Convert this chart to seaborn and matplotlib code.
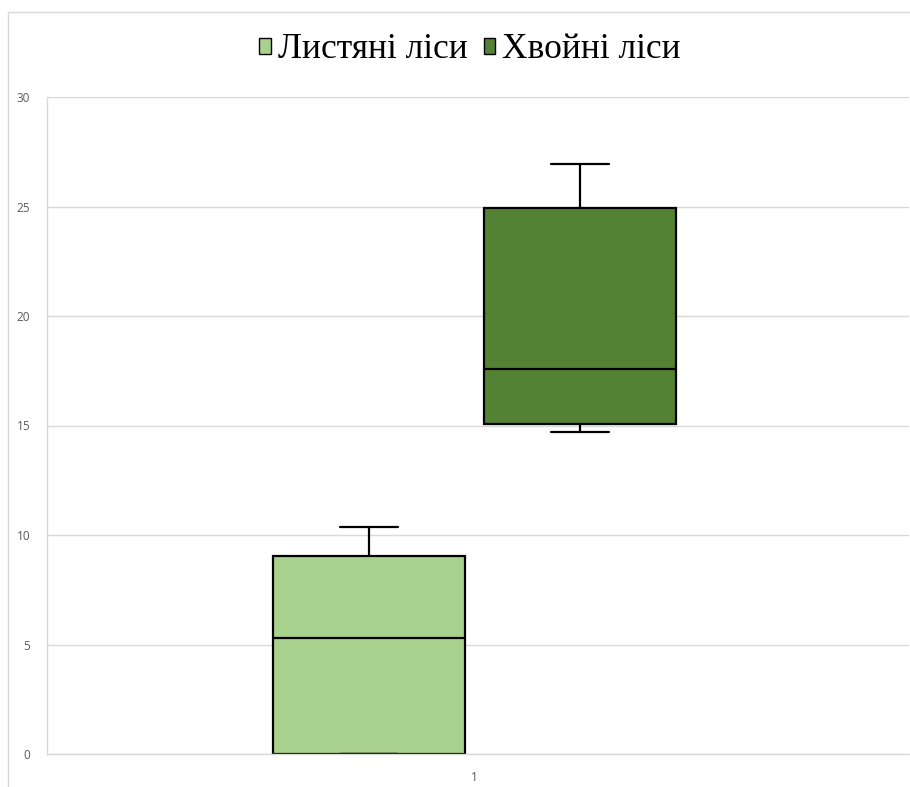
import matplotlib
matplotlib.use("Agg")
import matplotlib.pyplot as plt
from matplotlib.patches import Rectangle
import seaborn as sns
import numpy as np
import pandas as pd

# five-number summaries: min, q1, median, q3, max
series_names = ["Листяні ліси", "Хвойні ліси"]
deciduous = [0.0, 0.0, 5.3, 9.05, 10.35]
coniferous = [14.7, 15.07, 17.58, 24.93, 26.93]
category = "1"
colors = ["#A9D18E", "#548235"]
y_ticks = [0, 5, 10, 15, 20, 25, 30]

df = pd.DataFrame({
    "cat": [category] * (len(deciduous) + len(coniferous)),
    "series": [series_names[0]] * len(deciduous) + [series_names[1]] * len(coniferous),
    "value": deciduous + coniferous,
})

sns.set_style("white")
fig = plt.figure(figsize=(9.1, 7.87), dpi=100)
ax = fig.add_axes([47 / 910, 33 / 787, 862 / 910, 657 / 787])

sns.boxplot(data=df, x="cat", y="value", hue="series", hue_order=series_names,
            palette=colors, saturation=1, width=0.49, gap=0.09, whis=np.inf,
            linecolor="black", linewidth=1.6, ax=ax, legend=True)

# narrower whisker caps, like the spreadsheet ones
box_w = 0.49 / 2 * (1 - 0.09)
for ln in ax.lines:
    xd = np.asarray(ln.get_xdata(), dtype=float)
    yd = np.asarray(ln.get_ydata(), dtype=float)
    if len(xd) == 2 and yd[0] == yd[1]:
        span = abs(xd[1] - xd[0])
        if span < 0.7 * box_w:
            c = xd.mean()
            half = 0.15 * box_w
            ln.set_xdata([c - half, c + half])

ax.set_ylim(0, 30)
ax.set_xlim(-0.496, 0.504)
ax.set_yticks(y_ticks)
ax.yaxis.grid(True, color="#D9D9D9", linewidth=1)
ax.set_axisbelow(True)
ax.set_xlabel("")
ax.set_ylabel("")
for s in ["top", "right"]:
    ax.spines[s].set_visible(False)
for s in ["left", "bottom"]:
    ax.spines[s].set_color("#D9D9D9")
    ax.spines[s].set_linewidth(1)
ax.tick_params(axis="both", length=0, labelsize=8.5, labelcolor="#595959", pad=12)
for lab in ax.get_yticklabels() + ax.get_xticklabels():
    lab.set_family("Open Sans")

leg = ax.legend(loc="center", bbox_to_anchor=(470 / 910, 1 - 50 / 787),
                bbox_transform=fig.transFigure, ncol=2, frameon=False,
                prop={"family": "Liberation Serif", "size": 25.5},
                handlelength=0.33, handleheight=0.33, handletextpad=0.2,
                columnspacing=0.45)
for h in leg.legend_handles:
    h.set_edgecolor("black")
    h.set_linewidth(1)
for t in leg.get_texts():
    t.set_color("black")

# chart frame like the spreadsheet export
fig.patches.append(Rectangle((8 / 910, -0.05), 1.2, 1 - 12 / 787 + 0.05,
                             transform=fig.transFigure, fill=False,
                             edgecolor="#D9D9D9", linewidth=1))

fig.savefig("out.png", dpi=100)
